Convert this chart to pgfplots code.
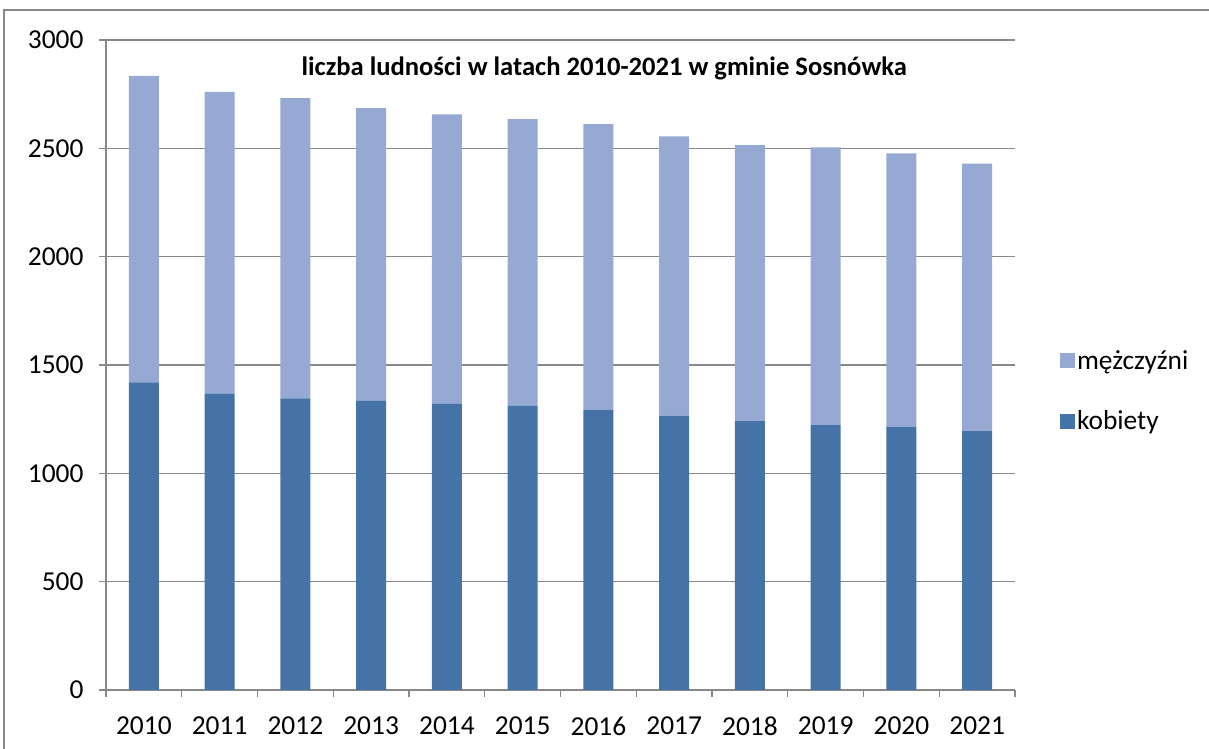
\documentclass[border=0pt]{standalone}
\usepackage{fontspec}
\setmainfont{Carlito}
\usepackage{pgfplots}
\pgfplotsset{compat=1.18}
\usepackage{pgfplotstable}
\definecolor{kob}{HTML}{4573A7}
\definecolor{mez}{HTML}{95A9D2}
\definecolor{gridc}{HTML}{888888}
\pgfplotstableread{
x kobiety mezczyzni
1 1420 1414
2 1367 1394
3 1346 1386
4 1334 1352
5 1321 1336
6 1311 1324
7 1292 1320
8 1266 1289
9 1241 1274
10 1223 1281
11 1215 1262
12 1195 1234
}\data
\begin{document}
\begin{tikzpicture}[x=1bp,y=1bp]
\useasboundingbox (0,0) rectangle (1209,749);
\draw[gridc,line width=1.2bp] (4,-2) -- (4,739) -- (1212,739);
\begin{axis}[
  at={(106bp,59bp)}, anchor=south west,
  width=909bp, height=650bp, scale only axis,
  xmin=0.5, xmax=12.5, ymin=0, ymax=3000,
  ybar stacked, bar width=30bp,
  axis x line*=bottom, axis y line*=left,
  axis line style={gridc,line width=1.2bp,-},
  xtick={0.5,1.5,...,12.5},
  xticklabels={},
  extra x ticks={1,...,12},
  extra x tick labels={2010,2011,2012,2013,2014,2015,2016,2017,2018,2019,2020,2021},
  extra x tick style={tick style={draw=none}, xticklabel style={yshift=-16bp}},
  ytick={0,500,...,3000},
  ymajorgrids, major grid style={gridc,line width=1.2bp},
  tick style={gridc,line width=1.2bp},
  major tick length=7bp,
  tick align=outside,
  yticklabel style={xshift=-12bp},
  ticklabel style={font=\fontsize{27.5}{33}\selectfont},
  /pgf/number format/assume math mode=true,
  /pgf/number format/set thousands separator={},
  reverse legend,
  legend cell align=left,
  legend style={at={(1.046,0.46)}, anchor=west, draw=none, fill=none,
    font=\fontsize{27.5}{33}\selectfont, row sep=36bp,
    /tikz/every even column/.append style={column sep=8bp}},
  legend image code/.code={\fill[#1] (0bp,-7.5bp) rectangle (15bp,7.5bp);},
  clip=false,
]
\addplot[fill=kob, draw=none] table[x=x,y=kobiety] {\data};
\addlegendentry{kobiety}
\addplot[fill=mez, draw=none] table[x=x,y=mezczyzni] {\data};
\addlegendentry{mężczyźni}
\node[font=\bfseries\fontsize{26.7}{32}\selectfont] at (rel axis cs:0.548,0.957) {liczba ludności w latach 2010-2021 w gminie Sosnówka};
\end{axis}
\end{tikzpicture}
\end{document}
